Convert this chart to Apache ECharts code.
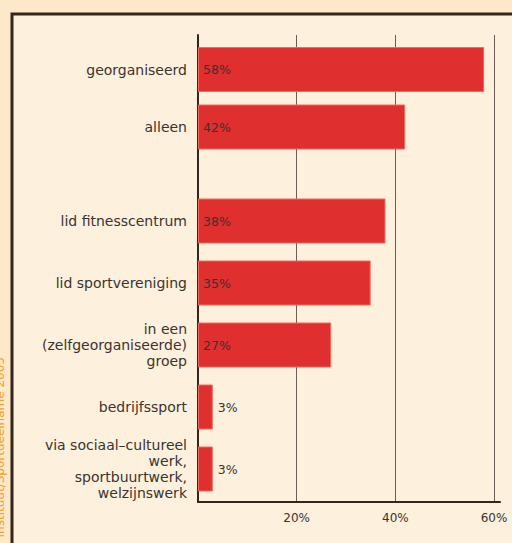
<!DOCTYPE html>
<html>
<head>
<meta charset="utf-8">
<script src="https://cdn.jsdelivr.net/npm/echarts@6/dist/echarts.min.js"></script>
<style>
  html, body { margin: 0; padding: 0; background: #fde9c9; }
  #chart { width: 512px; height: 543px; }
</style>
</head>
<body>
<div id="chart"></div>
<script>
// Sportbeoefening: hoe wordt er gesport (percentages)
var topCats = ['georganiseerd', 'alleen'];
var topVals = [58, 42];
var bottomCats = [
  'lid fitnesscentrum',
  'lid sportvereniging',
  'in een\n(zelfgeorganiseerde)\ngroep',
  'bedrijfssport',
  'via sociaal\u2013cultureel\nwerk,\nsportbuurtwerk,\nwelzijnswerk'
];
var bottomVals = [38, 35, 27, 3, 3];
var xTicks = [0, 20, 40, 60];
var sourceText = 'Bron: Mulier Instituut/Sportdeelname 2005';

(function () {
  var ink = '#3b3330';
  var frame = '#33261d';
  var rule = '#6b5d53';
  var red = '#df2f2f';
  var font = '"DejaVu Sans", "Open Sans", sans-serif';

  var chart = echarts.init(document.getElementById('chart'), null, { renderer: 'svg' });

  function barData(vals) {
    return vals.map(function (v) {
      return v < 10
        ? { value: v, label: { position: 'right', distance: 5 } }
        : v;
    });
  }

  var barSeries = function (idx, vals) {
    return {
      type: 'bar',
      xAxisIndex: idx,
      yAxisIndex: idx,
      barWidth: 45,
      data: barData(vals),
      itemStyle: { color: red, borderColor: '#ef6a5e', borderWidth: 1 },
      label: {
        show: true,
        position: 'insideLeft',
        distance: 5,
        color: ink,
        fontFamily: font,
        fontSize: 12.5,
        formatter: '{c}%'
      },
      z: 3
    };
  };

  var hiddenX = { type: 'value', min: 0, max: 60, show: false };
  var catLabel = { color: ink, fontSize: 14, margin: 11, lineHeight: 16, fontFamily: font };

  chart.setOption({
    animation: false,
    backgroundColor: '#fde9c9',
    textStyle: { fontFamily: font },
    graphic: [
      {
        type: 'rect',
        shape: { x: 12, y: 14, width: 520, height: 560 },
        style: { fill: '#fdf0dc', stroke: frame, lineWidth: 3 },
        z: -10
      },
      {
        type: 'text',
        x: 0,
        y: 357,
        rotation: Math.PI / 2,
        style: {
          text: sourceText,
          fill: '#f0a028',
          font: '12px ' + font,
          align: 'right',
          verticalAlign: 'middle'
        },
        z: -5
      }
    ],
    grid: [
      // 0: axis chrome (axis lines)
      { left: 198, right: 12, top: 35, bottom: 41 },
      // 1: gridlines + tick labels
      { left: 198, right: 18, top: 35, bottom: 41 },
      // 2: upper group
      { left: 198, right: 18, top: 40.75, height: 115 },
      // 3: lower group
      { left: 198, right: 18, top: 190, bottom: 43 }
    ],
    xAxis: [
      {
        gridIndex: 0, type: 'value', min: 0, max: 61,
        axisLine: { show: true, lineStyle: { color: frame, width: 2 } },
        axisTick: { show: false }, axisLabel: { show: false }, splitLine: { show: false }
      },
      {
        gridIndex: 1, type: 'value', min: xTicks[0], max: xTicks[xTicks.length - 1], interval: 20,
        axisLine: { show: false },
        axisTick: { show: false },
        axisLabel: {
          color: ink, fontSize: 12, margin: 10, fontFamily: font,
          formatter: function (v) { return v === 0 ? '' : v + '%'; }
        },
        splitLine: { show: true, lineStyle: { color: rule, width: 1 } }
      },
      Object.assign({ gridIndex: 2 }, hiddenX),
      Object.assign({ gridIndex: 3 }, hiddenX)
    ],
    yAxis: [
      {
        gridIndex: 0, type: 'value', min: 0, max: 1,
        axisLine: { show: true, lineStyle: { color: frame, width: 2 } },
        axisTick: { show: false }, axisLabel: { show: false }, splitLine: { show: false }
      },
      { gridIndex: 1, type: 'value', show: false },
      {
        gridIndex: 2, type: 'category', inverse: true, data: topCats,
        axisLine: { show: false }, axisTick: { show: false },
        axisLabel: catLabel
      },
      {
        gridIndex: 3, type: 'category', inverse: true, data: bottomCats,
        axisLine: { show: false }, axisTick: { show: false },
        axisLabel: catLabel
      }
    ],
    series: [
      barSeries(2, topVals),
      barSeries(3, bottomVals)
    ]
  });
})();
</script>
</body>
</html>
